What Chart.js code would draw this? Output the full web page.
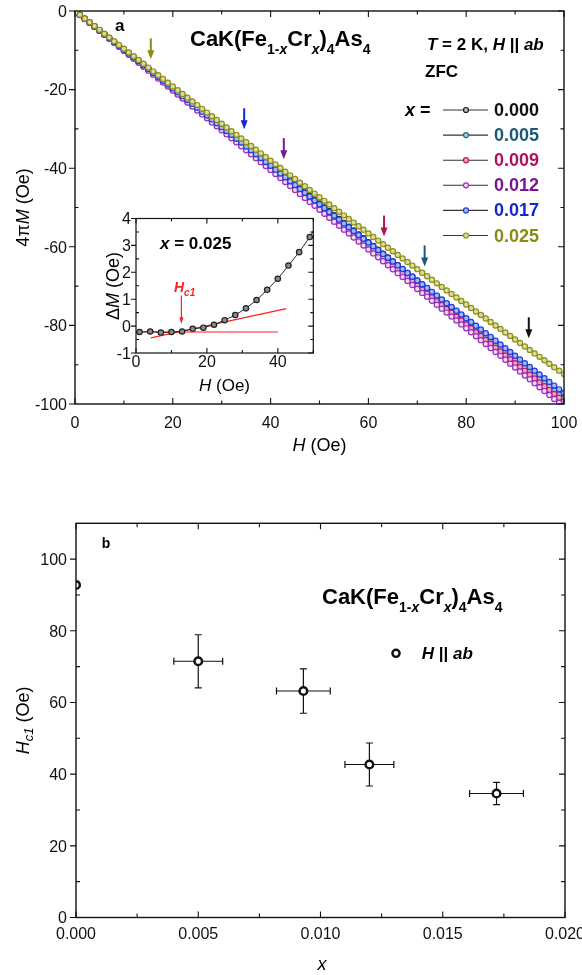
<!DOCTYPE html>
<html>
<head>
<meta charset="utf-8">
<title>CaK(Fe1-xCrx)4As4 magnetization and Hc1</title>
<script src="https://cdn.jsdelivr.net/npm/chart.js@4.4.1/dist/chart.umd.min.js"></script>
<style>
  body { margin: 0; background: #fff; }
  #page { position: relative; width: 582px; height: 975px; overflow: hidden; }
  canvas { position: absolute; }
  #magChart { left: 0; top: 0; }
  #hc1Chart { left: 0; top: 470px; }
  #insetChart { left: 90px; top: 200px; }
</style>
</head>
<body>
<div id="page">
  <canvas id="magChart" width="582" height="470"></canvas>
  <canvas id="hc1Chart" width="582" height="505"></canvas>
  <canvas id="insetChart" width="240" height="200"></canvas>
</div>
<script>
const FONT = '"Liberation Sans", Arial, sans-serif';

// ---- panel a: 4piM(H), ZFC, T = 2 K ----
const fieldH = [
  1, 2, 3, 4, 5, 6, 7, 8, 9, 10,
  11, 12, 13, 14, 15, 16, 17, 18, 19, 20,
  21, 22, 23, 24, 25, 26, 27, 28, 29, 30,
  31, 32, 33, 34, 35, 36, 37, 38, 39, 40,
  41, 42, 43, 44, 45, 46, 47, 48, 49, 50,
  51, 52, 53, 54, 55, 56, 57, 58, 59, 60,
  61, 62, 63, 64, 65, 66, 67, 68, 69, 70,
  71, 72, 73, 74, 75, 76, 77, 78, 79, 80,
  81, 82, 83, 84, 85, 86, 87, 88, 89, 90,
  91, 92, 93, 94, 95, 96, 97, 98, 99, 100
];
const m000 = [
  -0.98, -1.96, -2.94, -3.92, -4.90, -5.88, -6.86, -7.84, -8.82, -9.80,
  -10.78, -11.76, -12.74, -13.72, -14.70, -15.68, -16.66, -17.64, -18.62, -19.60,
  -20.58, -21.56, -22.54, -23.52, -24.50, -25.48, -26.46, -27.44, -28.42, -29.40,
  -30.38, -31.36, -32.34, -33.32, -34.30, -35.28, -36.26, -37.24, -38.22, -39.20,
  -40.18, -41.16, -42.14, -43.12, -44.10, -45.08, -46.06, -47.04, -48.02, -49.00,
  -49.98, -50.96, -51.94, -52.92, -53.90, -54.88, -55.86, -56.84, -57.82, -58.80,
  -59.78, -60.76, -61.74, -62.72, -63.70, -64.68, -65.66, -66.64, -67.62, -68.60,
  -69.58, -70.56, -71.54, -72.52, -73.50, -74.48, -75.46, -76.44, -77.42, -78.40,
  -79.38, -80.36, -81.34, -82.32, -83.30, -84.28, -85.26, -86.24, -87.22, -88.20,
  -89.18, -90.16, -91.14, -92.12, -93.10, -94.07, -95.05, -96.02, -97.00, -97.98
];
const m005 = [
  -0.99, -1.97, -2.96, -3.95, -4.94, -5.92, -6.91, -7.90, -8.88, -9.87,
  -10.86, -11.84, -12.83, -13.82, -14.81, -15.79, -16.78, -17.77, -18.75, -19.74,
  -20.73, -21.71, -22.70, -23.69, -24.68, -25.66, -26.65, -27.64, -28.62, -29.61,
  -30.60, -31.58, -32.57, -33.56, -34.55, -35.53, -36.52, -37.51, -38.49, -39.48,
  -40.47, -41.45, -42.44, -43.43, -44.42, -45.40, -46.39, -47.38, -48.36, -49.35,
  -50.34, -51.32, -52.31, -53.30, -54.29, -55.27, -56.26, -57.25, -58.23, -59.22,
  -60.21, -61.19, -62.18, -63.17, -64.16, -65.14, -66.13, -67.12, -68.10, -69.09,
  -70.08, -71.06, -72.05, -73.04, -74.02, -75.01, -75.99, -76.98, -77.96, -78.95,
  -79.93, -80.91, -81.89, -82.88, -83.86, -84.84, -85.82, -86.80, -87.78, -88.76,
  -89.74, -90.72, -91.70, -92.68, -93.65, -94.63, -95.61, -96.59, -97.56, -98.54
];
const m009 = [
  -1.00, -2.00, -2.99, -3.99, -4.99, -5.99, -6.99, -7.98, -8.98, -9.98,
  -10.98, -11.98, -12.97, -13.97, -14.97, -15.97, -16.97, -17.96, -18.96, -19.96,
  -20.96, -21.96, -22.95, -23.95, -24.95, -25.95, -26.95, -27.94, -28.94, -29.94,
  -30.94, -31.94, -32.93, -33.93, -34.93, -35.93, -36.93, -37.92, -38.92, -39.92,
  -40.92, -41.92, -42.91, -43.91, -44.91, -45.91, -46.91, -47.90, -48.90, -49.90,
  -50.90, -51.90, -52.89, -53.89, -54.89, -55.89, -56.89, -57.88, -58.88, -59.88,
  -60.88, -61.88, -62.87, -63.87, -64.87, -65.87, -66.86, -67.86, -68.85, -69.85,
  -70.84, -71.83, -72.82, -73.82, -74.81, -75.80, -76.79, -77.78, -78.77, -79.75,
  -80.74, -81.73, -82.71, -83.70, -84.68, -85.67, -86.65, -87.64, -88.62, -89.60,
  -90.58, -91.56, -92.54, -93.52, -94.50, -95.48, -96.46, -97.44, -98.41, -99.39
];
const m012 = [
  -1.01, -2.02, -3.04, -4.05, -5.06, -6.07, -7.08, -8.10, -9.11, -10.12,
  -11.13, -12.14, -13.16, -14.17, -15.18, -16.19, -17.20, -18.22, -19.23, -20.24,
  -21.25, -22.26, -23.28, -24.29, -25.30, -26.31, -27.32, -28.34, -29.35, -30.36,
  -31.37, -32.38, -33.40, -34.41, -35.42, -36.43, -37.44, -38.46, -39.47, -40.48,
  -41.49, -42.50, -43.52, -44.53, -45.54, -46.55, -47.56, -48.57, -49.58, -50.59,
  -51.60, -52.61, -53.62, -54.63, -55.64, -56.64, -57.65, -58.66, -59.67, -60.67,
  -61.68, -62.69, -63.69, -64.70, -65.70, -66.71, -67.71, -68.72, -69.72, -70.73,
  -71.73, -72.73, -73.74, -74.74, -75.74, -76.74, -77.75, -78.75, -79.75, -80.75,
  -81.75, -82.75, -83.75, -84.75, -85.75, -86.75, -87.75, -88.75, -89.74, -90.74,
  -91.74, -92.74, -93.73, -94.73, -95.73, -96.72, -97.72, -98.71, -99.71, -100.70
];
const m017 = [
  -0.99, -1.97, -2.96, -3.94, -4.93, -5.91, -6.90, -7.88, -8.87, -9.85,
  -10.84, -11.82, -12.81, -13.79, -14.78, -15.76, -16.75, -17.73, -18.72, -19.70,
  -20.69, -21.67, -22.66, -23.64, -24.63, -25.61, -26.60, -27.58, -28.57, -29.55,
  -30.54, -31.52, -32.51, -33.49, -34.48, -35.46, -36.44, -37.43, -38.41, -39.39,
  -40.37, -41.35, -42.33, -43.31, -44.29, -45.27, -46.25, -47.23, -48.20, -49.18,
  -50.15, -51.13, -52.10, -53.08, -54.05, -55.02, -55.99, -56.97, -57.94, -58.91,
  -59.88, -60.84, -61.81, -62.78, -63.75, -64.71, -65.68, -66.65, -67.61, -68.57,
  -69.54, -70.50, -71.46, -72.42, -73.39, -74.35, -75.31, -76.26, -77.22, -78.18,
  -79.14, -80.10, -81.05, -82.01, -82.96, -83.92, -84.87, -85.82, -86.78, -87.73,
  -88.68, -89.63, -90.58, -91.53, -92.48, -93.43, -94.38, -95.32, -96.27, -97.22
];
const m025 = [
  -0.96, -1.92, -2.88, -3.84, -4.80, -5.76, -6.72, -7.68, -8.64, -9.60,
  -10.56, -11.52, -12.48, -13.44, -14.40, -15.36, -16.32, -17.28, -18.23, -19.19,
  -20.14, -21.10, -22.05, -23.00, -23.95, -24.90, -25.85, -26.80, -27.74, -28.69,
  -29.63, -30.58, -31.52, -32.46, -33.40, -34.34, -35.28, -36.22, -37.15, -38.09,
  -39.02, -39.96, -40.89, -41.82, -42.75, -43.68, -44.61, -45.54, -46.46, -47.39,
  -48.31, -49.24, -50.16, -51.08, -52.00, -52.92, -53.84, -54.76, -55.67, -56.59,
  -57.50, -58.42, -59.33, -60.24, -61.15, -62.06, -62.97, -63.88, -64.78, -65.69,
  -66.59, -67.50, -68.40, -69.30, -70.20, -71.10, -72.00, -72.90, -73.79, -74.69,
  -75.58, -76.48, -77.37, -78.26, -79.15, -80.04, -80.93, -81.82, -82.70, -83.59,
  -84.47, -85.36, -86.24, -87.12, -88.00, -88.88, -89.76, -90.64, -91.51, -92.39
];

const dopings = ['0.000', '0.005', '0.009', '0.012', '0.017', '0.025'];
const magSeries = [m000, m005, m009, m012, m017, m025];
const ringColors = ['#1a1a1a', '#1f6b8e', '#c0166a', '#9a2fb8', '#1e3ee0', '#8e8e17'];
const fillColors = ['#bcbcbc', '#a9c9d6', '#eaa8c6', '#f0dcf5', '#aab8f2', '#dcdca0'];
const textColors = ['#111111', '#1a5878', '#b0125a', '#7a1590', '#1428d0', '#8a8a14'];

// Hc1 markers: field and arrow tip height for each doping
const arrowH = [92.8, 71.5, 63.2, 42.7, 34.6, 15.5];
const arrowTipM = [-83.3, -65.0, -57.4, -37.7, -30.1, -12.3];

const magXTicks = [0, 20, 40, 60, 80, 100];
const magXMinor = [10, 30, 50, 70, 90];
const magYTicks = [0, -20, -40, -60, -80, -100];
const magYMinor = [-10, -30, -50, -70, -90];

// ---- inset: deviation from linear M(H), x = 0.025 ----
const insetH = [1, 4, 7, 10, 13, 16, 19, 22, 25, 28, 31, 34, 37, 40, 43, 46, 49, 52];
const insetDM = [-0.22, -0.20, -0.24, -0.22, -0.20, -0.10, -0.06, 0.05, 0.22, 0.41, 0.66, 0.97, 1.35, 1.76, 2.25, 2.75, 3.31, 4.00];
const flatFitH = [0, 40];
const flatFitDM = [-0.22, -0.22];
const slopeFitH = [4.2, 42.4];
const slopeFitDM = [-0.44, 0.65];
const insetArrowH = 12.8;
const insetArrowDM = [1.14, 0.07];
const insetXTicks = [0, 20, 40];
const insetXMinor = [10, 30, 50];
const insetYTicks = [-1, 0, 1, 2, 3, 4];
const insetYMinor = [-0.5, 0.5, 1.5, 2.5, 3.5];

// ---- panel b: Hc1 vs x ----
const dopingX = [0, 0.005, 0.0093, 0.012, 0.0172];
const dopingErr = [0, 0.001, 0.0011, 0.001, 0.0011];
const hc1 = [92.8, 71.5, 63.2, 42.7, 34.6];
const hc1Err = [0, 7.4, 6.2, 6.0, 3.1];
const hc1XTicks = [0, 0.005, 0.010, 0.015, 0.020];
const hc1XLabels = ['0.000', '0.005', '0.010', '0.015', '0.020'];
const hc1XMinor = [0.0025, 0.0075, 0.0125, 0.0175];
const hc1YTicks = [0, 20, 40, 60, 80, 100];
const hc1YMinor = [10, 30, 50, 70, 90];


function font(s) {
  return (s.it ? 'italic ' : '') + (s.b ? 'bold ' : '') + s.sz + 'px ' + FONT;
}

// draws a run of styled pieces (sub/superscripts via dy) from a baseline point
function richText(ctx, x, y, segs, align, color) {
  let w = 0;
  segs.forEach(s => { ctx.font = font(s); w += ctx.measureText(s.t).width; });
  let cx = align === 'center' ? x - w / 2 : align === 'right' ? x - w : x;
  ctx.textAlign = 'left';
  ctx.textBaseline = 'alphabetic';
  segs.forEach(s => {
    ctx.font = font(s);
    ctx.fillStyle = s.c || color || '#000';
    ctx.fillText(s.t, cx, y + (s.dy || 0));
    cx += ctx.measureText(s.t).width;
  });
}

function rotatedText(ctx, x, y, segs) {
  ctx.save();
  ctx.translate(x, y);
  ctx.rotate(-Math.PI / 2);
  richText(ctx, 0, 0, segs, 'center');
  ctx.restore();
}

function downArrow(ctx, x, yTop, yTip, color, shaft, headW, headL) {
  ctx.strokeStyle = color;
  ctx.fillStyle = color;
  ctx.lineWidth = shaft;
  ctx.beginPath();
  ctx.moveTo(x, yTop);
  ctx.lineTo(x, yTip - headL + 1);
  ctx.stroke();
  ctx.beginPath();
  ctx.moveTo(x - headW / 2, yTip - headL);
  ctx.lineTo(x + headW / 2, yTip - headL);
  ctx.lineTo(x, yTip);
  ctx.closePath();
  ctx.fill();
}

function dot(ctx, x, y, r, ring, fill, lw) {
  ctx.beginPath();
  ctx.arc(x, y, r, 0, Math.PI * 2);
  ctx.fillStyle = fill;
  ctx.fill();
  ctx.lineWidth = lw;
  ctx.strokeStyle = ring;
  ctx.stroke();
}

function formula(sz, sub, dy) {
  return [
    {t: 'CaK(Fe', b: 1, sz: sz},
    {t: '1-', b: 1, sz: sub, dy: dy},
    {t: 'x', b: 1, it: 1, sz: sub, dy: dy},
    {t: 'Cr', b: 1, sz: sz},
    {t: 'x', b: 1, it: 1, sz: sub, dy: dy},
    {t: ')', b: 1, sz: sz},
    {t: '4', b: 1, sz: sub, dy: dy},
    {t: 'As', b: 1, sz: sz},
    {t: '4', b: 1, sz: sub, dy: dy}
  ];
}

// boxed frame, ticks on all sides (left majors point out), tick labels, then notes
function framePlugin(id, cfg) {
  return {
    id: id,
    afterDatasetsDraw(chart) {
      const ctx = chart.ctx;
      const a = chart.chartArea;
      const sx = chart.scales.x;
      const sy = chart.scales.y;
      ctx.save();
      ctx.strokeStyle = '#111';
      ctx.lineWidth = 1.1;
      ctx.beginPath();
      cfg.xTicks.forEach(v => {
        const p = sx.getPixelForValue(v);
        ctx.moveTo(p, a.bottom); ctx.lineTo(p, a.bottom - cfg.major);
        ctx.moveTo(p, a.top); ctx.lineTo(p, a.top + cfg.major);
      });
      cfg.xMinor.forEach(v => {
        const p = sx.getPixelForValue(v);
        ctx.moveTo(p, a.bottom); ctx.lineTo(p, a.bottom - cfg.minor);
        ctx.moveTo(p, a.top); ctx.lineTo(p, a.top + cfg.minor);
      });
      cfg.yTicks.forEach(v => {
        const p = sy.getPixelForValue(v);
        ctx.moveTo(a.left - cfg.major, p); ctx.lineTo(a.left, p);
        ctx.moveTo(a.right, p); ctx.lineTo(a.right - cfg.major, p);
      });
      cfg.yMinor.forEach(v => {
        const p = sy.getPixelForValue(v);
        ctx.moveTo(a.left, p); ctx.lineTo(a.left + cfg.minor, p);
        ctx.moveTo(a.right, p); ctx.lineTo(a.right - cfg.minor, p);
      });
      ctx.stroke();
      ctx.lineWidth = cfg.frame;
      ctx.strokeRect(a.left, a.top, a.right - a.left, a.bottom - a.top);

      ctx.fillStyle = '#111';
      ctx.font = cfg.tickSize + 'px ' + FONT;
      ctx.textBaseline = 'alphabetic';
      ctx.textAlign = 'center';
      cfg.xTicks.forEach((v, i) => {
        const txt = cfg.xLabels ? cfg.xLabels[i] : String(v);
        ctx.fillText(txt, sx.getPixelForValue(v), a.bottom + cfg.xDrop);
      });
      ctx.textAlign = 'right';
      cfg.yTicks.forEach(v => {
        ctx.fillText(String(v), a.left - cfg.yGap, sy.getPixelForValue(v) + cfg.tickSize * 0.36);
      });
      if (cfg.notes) cfg.notes(ctx, chart);
      ctx.restore();
    }
  };
}

function baseOptions(padding, xMin, xMax, yMin, yMax) {
  return {
    responsive: false,
    animation: false,
    events: [],
    layout: { padding: padding },
    plugins: { legend: { display: false }, tooltip: { enabled: false } },
    scales: {
      x: { type: 'linear', min: xMin, max: xMax, display: false },
      y: { type: 'linear', min: yMin, max: yMax, display: false }
    }
  };
}

function magNotes(ctx, chart) {
  const sx = chart.scales.x;
  const sy = chart.scales.y;
  arrowH.forEach((h, i) => {
    const tip = sy.getPixelForValue(arrowTipM[i]);
    downArrow(ctx, sx.getPixelForValue(h), tip - 21, tip, textColors[i], 2, 7, 9);
  });

  richText(ctx, 115, 31, [{t: 'a', b: 1, sz: 17}], 'left');
  richText(ctx, 190, 46, formula(22, 14, 8), 'left');
  richText(ctx, 427, 50, [
    {t: 'T', b: 1, it: 1, sz: 17}, {t: ' = 2 K, ', b: 1, sz: 17},
    {t: 'H', b: 1, it: 1, sz: 17}, {t: ' || ', b: 1, sz: 17}, {t: 'ab', b: 1, it: 1, sz: 17}
  ], 'left');
  richText(ctx, 425, 77, [{t: 'ZFC', b: 1, sz: 17}], 'left');

  // legend
  richText(ctx, 405, 116, [{t: 'x', b: 1, it: 1, sz: 18}, {t: ' =', b: 1, sz: 18}], 'left');
  dopings.forEach((d, i) => {
    const base = 116 + i * 25.1;
    const cy = base - 6;
    ctx.strokeStyle = '#333';
    ctx.lineWidth = 1.1;
    ctx.beginPath();
    ctx.moveTo(443, cy);
    ctx.lineTo(488, cy);
    ctx.stroke();
    dot(ctx, 466, cy, 2.5, ringColors[i], fillColors[i], 1.2);
    richText(ctx, 494, base, [{t: d, b: 1, sz: 18}], 'left', textColors[i]);
  });

  // axis titles
  richText(ctx, 319.5, 451, [{t: 'H', it: 1, sz: 18}, {t: ' (Oe)', sz: 18}], 'center');
  rotatedText(ctx, 29, 207.5, [{t: '4\u03c0', sz: 18}, {t: 'M', it: 1, sz: 18}, {t: ' (Oe)', sz: 18}]);
}

function insetNotes(ctx, chart) {
  const sx = chart.scales.x;
  const sy = chart.scales.y;
  downArrow(ctx, sx.getPixelForValue(insetArrowH), sy.getPixelForValue(insetArrowDM[0]),
    sy.getPixelForValue(insetArrowDM[1]), '#ff2020', 1.2, 4, 7);
  richText(ctx, 84, 91.7, [
    {t: 'H', b: 1, it: 1, sz: 14, c: '#ff2020'},
    {t: 'c1', b: 1, it: 1, sz: 10, dy: 4, c: '#ff2020'}
  ], 'left');
  richText(ctx, 70, 49, [{t: 'x', b: 1, it: 1, sz: 17}, {t: ' = 0.025', b: 1, sz: 17}], 'left');
  richText(ctx, 134.5, 191, [{t: 'H', it: 1, sz: 17}, {t: ' (Oe)', sz: 17}], 'center');
  rotatedText(ctx, 29, 86, [{t: '\u0394', sz: 18}, {t: 'M', it: 1, sz: 18}, {t: ' (Oe)', sz: 18}]);
}

function hc1Notes(ctx, chart) {
  richText(ctx, 101.7, 78, [{t: 'b', b: 1, sz: 14}], 'left');
  richText(ctx, 322, 134, formula(22, 14, 8), 'left');
  dot(ctx, 396, 183.3, 3.6, '#111', '#fff', 2.4);
  richText(ctx, 421.7, 189.3, [
    {t: 'H', b: 1, it: 1, sz: 17}, {t: ' || ', b: 1, sz: 17}, {t: 'ab', b: 1, it: 1, sz: 17}
  ], 'left');
  richText(ctx, 322, 500, [{t: 'x', it: 1, sz: 18}], 'center');
  rotatedText(ctx, 29, 250.4, [
    {t: 'H', it: 1, sz: 18}, {t: 'c1', it: 1, sz: 13, dy: 4}, {t: ' (Oe)', sz: 18}
  ]);
}

const errorBars = {
  id: 'errorBars',
  beforeDatasetsDraw(chart) {
    const ctx = chart.ctx;
    const sx = chart.scales.x;
    const sy = chart.scales.y;
    const cap = 3.5;
    ctx.save();
    ctx.strokeStyle = '#111';
    ctx.lineWidth = 1.2;
    ctx.beginPath();
    dopingX.forEach((xv, i) => {
      const px = sx.getPixelForValue(xv);
      const py = sy.getPixelForValue(hc1[i]);
      if (hc1Err[i] > 0) {
        const t = sy.getPixelForValue(hc1[i] + hc1Err[i]);
        const b = sy.getPixelForValue(hc1[i] - hc1Err[i]);
        ctx.moveTo(px, t); ctx.lineTo(px, b);
        ctx.moveTo(px - cap, t); ctx.lineTo(px + cap, t);
        ctx.moveTo(px - cap, b); ctx.lineTo(px + cap, b);
      }
      if (dopingErr[i] > 0) {
        const l = sx.getPixelForValue(xv - dopingErr[i]);
        const r = sx.getPixelForValue(xv + dopingErr[i]);
        ctx.moveTo(l, py); ctx.lineTo(r, py);
        ctx.moveTo(l, py - cap); ctx.lineTo(l, py + cap);
        ctx.moveTo(r, py - cap); ctx.lineTo(r, py + cap);
      }
    });
    ctx.stroke();
    ctx.restore();
  }
};

// panel a
new Chart(document.getElementById('magChart'), {
  type: 'scatter',
  data: {
    datasets: magSeries.map((m, i) => ({
      label: dopings[i],
      data: fieldH.map((h, k) => ({x: h, y: m[k]})),
      showLine: true,
      borderColor: '#333',
      borderWidth: 0.8,
      pointRadius: 2.6,
      pointBorderWidth: 1.2,
      pointBorderColor: ringColors[i],
      pointBackgroundColor: fillColors[i],
      clip: 0,
      order: magSeries.length - i
    }))
  },
  options: baseOptions({left: 75, top: 11, right: 18, bottom: 66}, 0, 100, -100, 0),
  plugins: [framePlugin('magFrame', {
    xTicks: magXTicks, xMinor: magXMinor, yTicks: magYTicks, yMinor: magYMinor,
    major: 6, minor: 3.5, frame: 1.4, tickSize: 16, xDrop: 23.5, yGap: 8, notes: magNotes
  })]
});

// inset
new Chart(document.getElementById('insetChart'), {
  type: 'scatter',
  data: {
    datasets: [
      {
        data: insetH.map((h, k) => ({x: h, y: insetDM[k]})),
        showLine: true, borderColor: '#111', borderWidth: 0.9,
        pointRadius: 2.7, pointBorderWidth: 1.2,
        pointBorderColor: '#222', pointBackgroundColor: '#8c8c8c',
        clip: 0, order: 1
      },
      {
        data: flatFitH.map((h, k) => ({x: h, y: flatFitDM[k]})),
        showLine: true, borderColor: '#ff2020', borderWidth: 1.2, pointRadius: 0,
        clip: 0, order: 2
      },
      {
        data: slopeFitH.map((h, k) => ({x: h, y: slopeFitDM[k]})),
        showLine: true, borderColor: '#ff2020', borderWidth: 1.2, pointRadius: 0,
        clip: 0, order: 2
      }
    ]
  },
  options: baseOptions({left: 46, top: 18.5, right: 16.7, bottom: 47}, 0, 50, -1, 4),
  plugins: [framePlugin('insetFrame', {
    xTicks: insetXTicks, xMinor: insetXMinor, yTicks: insetYTicks, yMinor: insetYMinor,
    major: 5, minor: 3, frame: 1.2, tickSize: 16, xDrop: 14, yGap: 5, notes: insetNotes
  })]
});

// panel b
new Chart(document.getElementById('hc1Chart'), {
  type: 'scatter',
  data: {
    datasets: [{
      data: dopingX.map((v, i) => ({x: v, y: hc1[i]})),
      showLine: false,
      pointRadius: 3.8,
      pointBorderWidth: 2.5,
      pointBorderColor: '#111',
      pointBackgroundColor: '#fff',
      clip: 0
    }]
  },
  options: baseOptions({left: 76, top: 53.3, right: 17, bottom: 57.5}, 0, 0.02, 0, 110),
  plugins: [errorBars, framePlugin('hc1Frame', {
    xTicks: hc1XTicks, xLabels: hc1XLabels, xMinor: hc1XMinor, yTicks: hc1YTicks, yMinor: hc1YMinor,
    major: 6, minor: 4, frame: 1.4, tickSize: 16, xDrop: 21.5, yGap: 9, notes: hc1Notes
  })]
});
</script>
</body>
</html>
